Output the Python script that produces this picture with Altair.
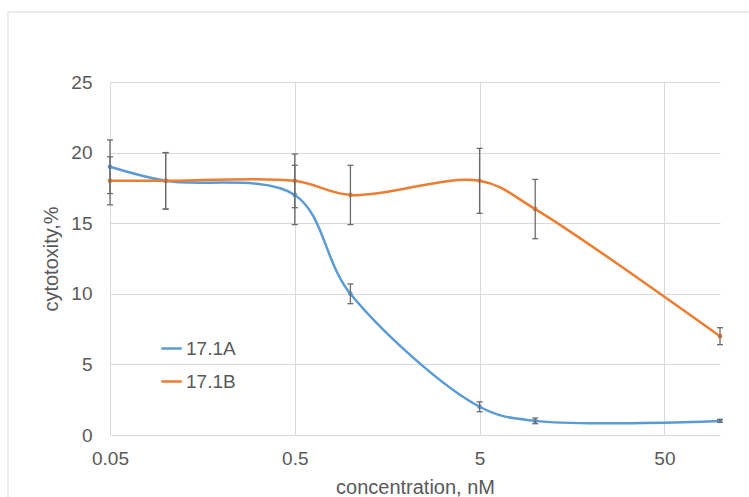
import altair as alt
import pandas as pd

conc = [0.05, 0.1, 0.5, 1, 5, 10, 100]
a_vals = [19, 18, 17, 10, 2, 1, 1]
a_err = [1.9, 2.0, 2.1, 0.7, 0.35, 0.2, 0.1]
b_vals = [18, 18, 18, 17, 18, 16, 7]
b_err = [1.7, 2.0, 1.9, 2.1, 2.3, 2.1, 0.6]
series = ["17.1A", "17.1B"]
colors = ["#5B9BD5", "#ED7D31"]
x_ticks = [0.05, 0.5, 5, 50]
y_ticks = [0, 5, 10, 15, 20, 25]

rows = []
for name, vals, errs in [(series[0], a_vals, a_err), (series[1], b_vals, b_err)]:
    for c, v, e in zip(conc, vals, errs):
        rows.append({"conc": c, "val": v, "lo": v - e, "hi": v + e, "series": name})
df = pd.DataFrame(rows)

FONT = "Liberation Sans"
GREY = "#595959"

xs = alt.X("conc:Q", scale=alt.Scale(type="log", domain=[0.05, 100], nice=False),
           axis=alt.Axis(values=x_ticks, labelExpr="format(datum.value, '~g')",
                         title="concentration, nM", grid=True, domain=False, ticks=False,
                         labelFlush=False, labelPadding=14, titlePadding=9))
ys = alt.Y("val:Q", scale=alt.Scale(domain=[0, 25], nice=False),
           axis=alt.Axis(values=y_ticks, title="cytotoxity,%", grid=True, domain=False,
                         ticks=False, labelPadding=18, titlePadding=9))
color = alt.Color("series:N", scale=alt.Scale(domain=series, range=colors),
                  legend=alt.Legend(title=None, orient="none", legendX=50, legendY=255,
                                    symbolType="stroke", symbolStrokeWidth=2.5,
                                    symbolSize=420, labelFontSize=19, labelColor=GREY,
                                    labelFont=FONT, rowPadding=11, labelOffset=3))

base = alt.Chart(df)

border = alt.Chart(pd.DataFrame({"k": [0]})).mark_rect(
    fillOpacity=0, stroke="#d9d9d9", strokeWidth=1
).encode(x=alt.value(-102), x2=alt.value(700), y=alt.value(-70), y2=alt.value(500))

lines = base.mark_line(interpolate="catmull-rom", strokeWidth=2.5).encode(x=xs, y=ys, color=color)
points = base.mark_circle(size=22, opacity=1).encode(x="conc:Q", y="val:Q", color=alt.Color("series:N", legend=None))
rules = base.mark_rule(color="#6b6b6b", strokeWidth=1.3).encode(x="conc:Q", y="lo:Q", y2="hi:Q")
cap_lo = base.mark_tick(orient="horizontal", size=6, thickness=1.3, color="#6b6b6b", opacity=1).encode(x="conc:Q", y="lo:Q")
cap_hi = base.mark_tick(orient="horizontal", size=6, thickness=1.3, color="#6b6b6b", opacity=1).encode(x="conc:Q", y="hi:Q")

chart = alt.layer(border, lines, points, rules, cap_lo, cap_hi).properties(
    width=610, height=353,
    autosize=alt.AutoSizeParams(type="none"),
    padding={"left": 110, "top": 82, "right": 29, "bottom": 62},
    background="white",
).configure_view(stroke=None).configure_axis(
    gridColor="#d9d9d9", gridWidth=1, labelFont=FONT, titleFont=FONT,
    labelFontSize=19, titleFontSize=20, labelColor=GREY, titleColor=GREY,
    titleFontWeight="normal"
)

chart.save("out.html", embed_options={"renderer": "svg", "actions": False})
